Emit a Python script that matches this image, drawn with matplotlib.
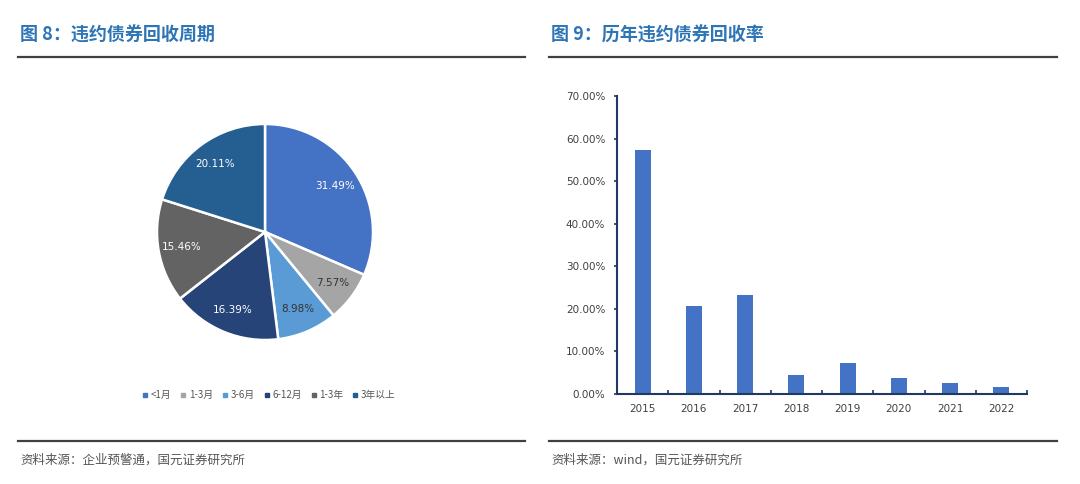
import matplotlib
matplotlib.use('Agg')
import matplotlib.pyplot as plt
from matplotlib.lines import Line2D
import numpy as np

plt.rcParams['font.family'] = ['Noto Sans CJK SC', 'DejaVu Sans']

# pie data
pie_labels = ['<1月', '1-3月', '3-6月', '6-12月', '1-3年', '3年以上']
pie_values = [31.49, 7.57, 8.98, 16.39, 15.46, 20.11]
pie_colors = ['#4472C4', '#A5A5A5', '#5B9BD5', '#264478', '#636363', '#255E91']
pie_text_colors = ['white', '#333333', '#333333', 'white', 'white', 'white']

# bar data
years = ['2015', '2016', '2017', '2018', '2019', '2020', '2021', '2022']
recovery = [57.4, 20.7, 23.2, 4.4, 7.2, 3.7, 2.6, 1.6]

W, H = 1080, 484
fig = plt.figure(figsize=(W / 100, H / 100), dpi=100)

def box(x0, y0, x1, y1):
    # pixel box (top-left origin) -> figure fraction rect
    return [x0 / W, 1 - y1 / H, (x1 - x0) / W, (y1 - y0) / H]

title_color = '#2E75B6'
fig.text(20 / W, 1 - 35 / H, '图 8：违约债券回收周期', color=title_color,
         fontsize=13, fontweight='bold', va='center', ha='left')
fig.text(551 / W, 1 - 35 / H, '图 9：历年违约债券回收率', color=title_color,
         fontsize=13, fontweight='bold', va='center', ha='left')

for x0, x1 in [(18, 525), (549, 1057)]:
    for yy in (57, 441):
        fig.add_artist(Line2D([x0 / W, x1 / W], [1 - yy / H, 1 - yy / H],
                              color='#404040', lw=1.6))

fig.text(20 / W, 1 - 460 / H, '资料来源：企业预警通，国元证券研究所', color='#555555',
         fontsize=9, va='center', ha='left')
fig.text(551 / W, 1 - 460 / H, '资料来源：wind，国元证券研究所', color='#555555',
         fontsize=9, va='center', ha='left')

# pie
ax1 = fig.add_axes(box(157, 124, 373, 340))
wedges, texts, autotexts = ax1.pie(
    pie_values, colors=pie_colors, startangle=90, counterclock=False,
    wedgeprops=dict(edgecolor='white', linewidth=1.8),
    autopct='%.2f%%', pctdistance=0.78, radius=1.0,
    textprops=dict(fontsize=7.5, family=['DejaVu Sans']))
for t, c in zip(autotexts, pie_text_colors):
    t.set_color(c)
ax1.set_xlim(-1.0, 1.0)
ax1.set_ylim(-1.0, 1.0)

handles = [Line2D([], [], marker='s', linestyle='none', markersize=2.5,
                  markerfacecolor=c, markeredgecolor=c) for c in pie_colors]
fig.legend(handles, pie_labels, loc='center', bbox_to_anchor=(269 / W, 1 - 395 / H),
           ncol=6, frameon=False, fontsize=7, handlelength=0.6, handletextpad=0.3,
           columnspacing=0.9, labelcolor='#555555')

# bar
ax2 = fig.add_axes(box(617, 96, 1027, 394))
x = np.arange(len(years))
ax2.bar(x, recovery, width=0.31, color='#4472C4')
ax2.set_xlim(-0.5, len(years) - 0.5)
ax2.set_ylim(0, 70)
ax2.set_yticks(np.arange(0, 71, 10))
ax2.set_yticklabels(['%.2f%%' % v for v in np.arange(0, 71, 10)])
ax2.set_xticks(x)
ax2.set_xticklabels(years)
ax2.set_xticks(np.arange(-0.5, len(years)), minor=True)
ax2.tick_params(axis='x', which='major', length=0, pad=7)
ax2.tick_params(axis='x', which='minor', length=3, direction='in', color='#203864', width=1.2)
ax2.tick_params(axis='y', length=2.5, direction='out', color='#203864', width=1.2, pad=6)
ax2.tick_params(labelsize=7.5, labelcolor='#404040')
for lab in ax2.get_xticklabels() + ax2.get_yticklabels():
    lab.set_family(['DejaVu Sans'])
for s in ['top', 'right']:
    ax2.spines[s].set_visible(False)
for s in ['left', 'bottom']:
    ax2.spines[s].set_color('#203864')
    ax2.spines[s].set_linewidth(1.5)

fig.savefig('out.png', dpi=100)
